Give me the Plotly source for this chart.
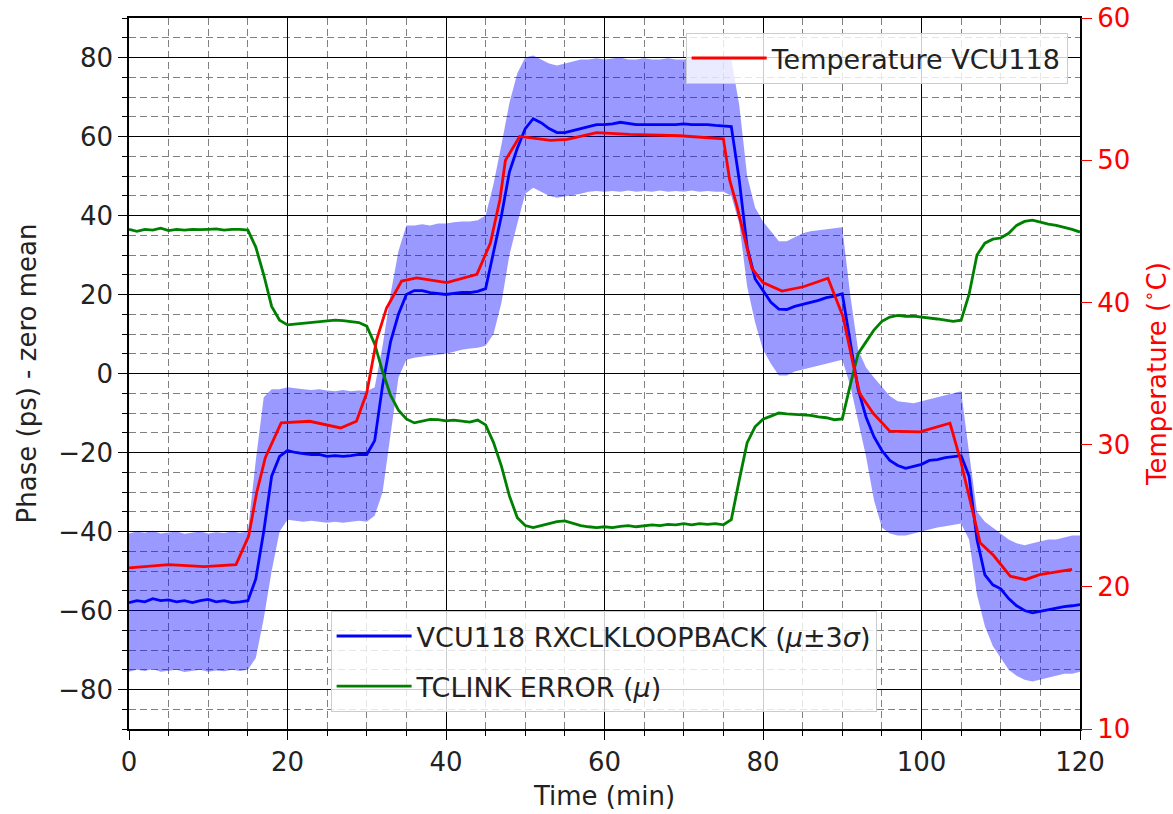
import plotly.graph_objects as go

time_min = list(range(0, 121))

phase_mean = [
    -58, -57.5, -57.8, -57, -57.5, -57.3, -57.8, -57.5, -58, -57.5, -57.2, -57.8, -57.5, -58, -57.8, -57.5,
    -52, -40, -26, -21, -19.5, -20, -20.3, -20.5, -20.5, -21, -20.8, -21, -20.8, -20.5, -20.5,
    -17, -3, 8, 15, 20, 21, 21, 20.5, 20.3, 20, 20.3, 20.5, 20.5, 20.8, 21.5,
    31, 40, 51, 57, 62, 64.5, 63.5, 62, 61, 61, 61.5, 62, 62.5, 63, 63,
    63.2, 63.6, 63.3, 63, 63, 63, 63, 63, 63, 63.2, 63, 63, 63, 62.8, 62.7,
    62.5, 49, 32, 24, 21, 18, 16.3, 16.2, 17, 17.5, 18, 18.5, 19.2, 19.6, 20.2,
    8, -4, -11, -16, -19.5, -22, -23.3, -24, -23.5, -23, -22, -21.8, -21.3, -21, -20.8,
    -26, -42, -51, -53.5, -54.5, -57, -58.8, -60, -60.6, -60.2, -59.8, -59.3, -59, -58.8, -58.5,
]

band_upper = [
    -40.5, -40, -40.3, -39.8, -40.5, -40.2, -40, -40.6, -40.3, -40, -40.5, -40.2, -40.4, -40, -40.3, -40,
    -22, -6, -4, -4, -3.5, -3.8, -4, -4.2, -4, -4.3, -4.5, -4.2, -4.5, -4.3, -4.5,
    -3.5, 7, 20, 31, 37.5, 37.5, 37.8, 37.5, 38, 38, 38.3, 38.5, 38.5, 38.8, 40,
    48, 58, 68.5, 76, 80, 80.5, 79.5, 78.5, 78, 78.5, 79, 79.5, 79.5, 79.8, 79.5,
    79.8, 80, 79.5, 79.5, 79.8, 79.5, 79.5, 79.8, 79.5, 79.5, 79.8, 79.5, 79.5, 79.5, 79.5,
    79.5, 68, 50, 42, 38.5, 36, 33.5, 33.5, 34.5, 35.5, 36, 36.3, 36.5, 36.8, 37,
    20, 6, 1.5, -1, -3.5, -5.7, -7, -7.3, -7.5, -7, -6.5, -6, -5.5, -5, -4.5,
    -20, -35, -37.5, -39, -40.5, -42, -43, -43.5, -43, -42.5, -42, -42, -41.5, -41, -41,
]

band_lower = [
    -75.5, -75, -75.3, -74.8, -75.5, -75.2, -75, -75.6, -75.3, -75, -75.5, -75.2, -75.4, -75, -75.3, -75,
    -72, -62, -50, -40, -37, -37.3, -37.5, -37.3, -37.5, -37.8, -37.5, -37.8, -37.5, -37.3, -37.5,
    -36, -30, -15, -1, 3.5, 4, 4.3, 4.5, 4.8, 5, 5.5, 6, 6.3, 6.5, 7,
    10, 18, 30, 38, 45.5, 47, 46, 45, 44.5, 44.8, 45.2, 45.5, 46, 46.2, 46,
    46.2, 46, 46.3, 46, 46.2, 46, 46.3, 46, 46.2, 46, 46.3, 46, 46.2, 46, 46,
    45, 38, 22, 13, 6, 2.5, -0.5, -0.5, 0.5, 1, 1.5, 2, 2.5, 3, 3.5,
    -3, -12, -21, -32, -39, -40.5, -41, -41, -40.5, -40, -39.5, -39, -38.7, -38.3, -38,
    -42, -56, -64, -69, -72, -75, -76.5, -77.5, -78, -77.5, -77, -76.5, -76, -76, -75.5,
]

tclink_error = [
    36.5, 36, 36.5, 36.3, 36.8, 36.2, 36.5, 36.3, 36.5, 36.4, 36.5, 36.6, 36.3, 36.5, 36.5, 36.3,
    32, 25, 17, 13.5, 12.3, 12.5, 12.6, 12.8, 13, 13.3, 13.5, 13.4, 13.2, 12.9, 12,
    7.5, 0.5, -5.5, -9.3, -11.5, -12.5, -12, -11.6, -11.7, -12, -11.8, -12, -12.3, -11.8, -13,
    -17.5, -23.5, -31, -36.5, -38.5, -39, -38.5, -38, -37.5, -37.3, -38, -38.5, -38.8, -39, -38.8,
    -39, -38.7, -38.5, -38.8, -38.5, -38.3, -38.5, -38.2, -38.3, -38, -38.3, -38, -38.2, -38, -38.3,
    -37, -27, -17.5, -13.5, -11.6, -10.8, -10, -10.2, -10.3, -10.4, -10.6, -11, -11.2, -11.7, -11.5,
    -3, 5, 8, 11, 13.2, 14.3, 14.7, 14.5, 14.5, 14.3, 14, 13.8, 13.5, 13.2, 13.5,
    20, 30, 33, 34, 34.3, 35.5, 37.5, 38.5, 38.8, 38.3, 37.8, 37.5, 37, 36.5, 35.8,
]

temp_time = [0, 5, 9.5, 13.5, 15.1, 16.1, 17.2, 19.2, 22.8, 26.7, 28.7, 30, 31.25, 32.5, 34.4,
             36.3, 40.1, 43.9, 45.6, 46.8, 47.5, 49.3, 53.2, 55.3, 59, 63.2, 69.5, 75.0, 75.8,
             76.7, 78.6, 80, 82.4, 85.1, 88.2, 90.1, 91.6, 92.2, 93.9, 96, 99.8, 103.6, 104.9,
             107.4, 109.1, 111.2, 113.1, 114.9, 119]
temp_c = [21.33, 21.56, 21.42, 21.56, 23.56, 26.6, 29.08, 31.53, 31.64, 31.17, 31.64, 33.64, 37.39,
          39.61, 41.5, 41.72, 41.39, 41.97, 44.17, 47.22, 50.0, 51.67, 51.39, 51.47, 51.94, 51.81,
          51.72, 51.5, 48.6, 46.8, 42.4, 41.4, 40.8, 41.1, 41.7, 39.0, 35.05, 33.6, 32.2, 30.94,
          30.9, 31.5, 28.95, 23.1, 22.2, 20.75, 20.5, 20.86, 21.22]

FONT = "DejaVu Sans"
FS = 26
LFS = 27
fig = go.Figure()

fig.add_trace(go.Scatter(x=time_min, y=band_lower, mode="lines", line=dict(width=0, color="rgba(0,0,255,0)"),
                         showlegend=False, hoverinfo="skip"))
fig.add_trace(go.Scatter(x=time_min, y=band_upper, mode="lines", line=dict(width=0, color="rgba(0,0,255,0)"),
                         fill="tonexty", fillcolor="rgba(0,0,255,0.4)", showlegend=False, hoverinfo="skip"))
fig.add_trace(go.Scatter(x=time_min, y=phase_mean, mode="lines", line=dict(color="#0000ff", width=2.8),
                         name="VCU118 RXCLKLOOPBACK (<i>μ</i>±3<i>σ</i>)", legend="legend2", legendgroup="a"))
fig.add_trace(go.Scatter(x=time_min, y=tclink_error, mode="lines", line=dict(color="#008000", width=2.8),
                         name="TCLINK ERROR (<i>μ</i>)", legend="legend2", legendgroup="b"))
fig.add_trace(go.Scatter(x=temp_time, y=temp_c, mode="lines", line=dict(color="#ff0000", width=2.8),
                         name="Temperature VCU118", yaxis="y2", legend="legend"))

axis_common = dict(
    showgrid=True, gridcolor="black", gridwidth=1.3,
    ticks="outside", ticklen=9, tickwidth=1.3, tickcolor="black",
    showline=True, linecolor="black", linewidth=1.5, mirror=True,
    zeroline=False, automargin=False, tickfont=dict(size=FS, color="#222", family=FONT),
)
minor_common = dict(dtick=5, showgrid=True, gridcolor="#808080", griddash="7px,4px", gridwidth=1,
                    ticks="outside", ticklen=5, tickcolor="black")

fig.update_layout(
    width=1173, height=814,
    margin=dict(l=129, r=93, t=18, b=85),
    paper_bgcolor="white", plot_bgcolor="white",
    font=dict(family=FONT, size=FS, color="#222"),
    xaxis=dict(range=[0, 120], tick0=0, dtick=20, minor=minor_common,
               title=dict(text="Time (min)", font=dict(size=FS), standoff=11), **axis_common),
    yaxis=dict(range=[-90, 90], tick0=0, dtick=20, minor=minor_common,
               title=dict(text="Phase (ps) - zero mean", font=dict(size=FS), standoff=14), **axis_common),
    yaxis2=dict(range=[10, 60], tick0=10, dtick=10, overlaying="y", side="right",
                showgrid=False, zeroline=False, showline=False, automargin=False,
                ticks="outside", ticklen=11, tickwidth=1.3, tickcolor="red",
                tickfont=dict(size=FS, color="red", family=FONT),
                title=dict(text="Temperature (<sup>∘</sup>C)", font=dict(size=FS, color="red"), standoff=18)),
    legend=dict(x=0.987, y=0.979, xanchor="right", yanchor="top", itemwidth=75,
                bgcolor="rgba(255,255,255,0.8)", bordercolor="#cccccc", borderwidth=1,
                font=dict(size=LFS, family=FONT)),
    legend2=dict(x=0.212, y=0.024, xanchor="left", yanchor="bottom", itemwidth=75,
                 bgcolor="rgba(255,255,255,0.8)", bordercolor="#cccccc", borderwidth=1,
                 font=dict(size=LFS, family=FONT), tracegroupgap=12, traceorder="grouped"),
)

fig.write_html("out.html", config={"displayModeBar": False},
               post_script="document.body.style.margin='0';")
